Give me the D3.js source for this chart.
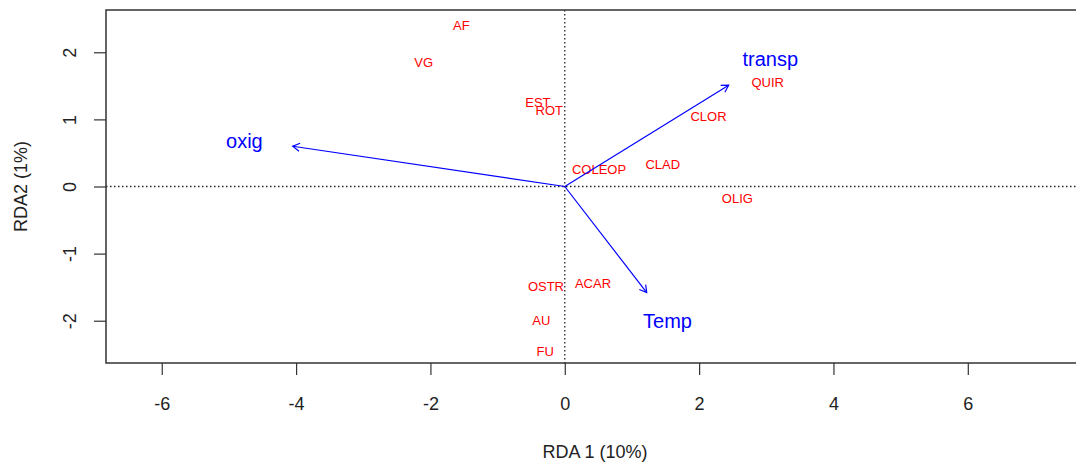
<!DOCTYPE html>
<html>
<head>
<meta charset="utf-8">
<script src="https://cdn.jsdelivr.net/npm/d3@7"></script>
<style>
  body { margin: 0; background: #fff; }
  text { font-family: "Liberation Sans", Arial, sans-serif; }
</style>
</head>
<body>
<script>
// species scores (site labels in red)
const species = ["AF", "VG", "EST", "ROT", "COLEOP", "CLAD", "CLOR", "QUIR", "OLIG", "OSTR", "ACAR", "AU", "FU"];
const speciesX = [-1.54, -2.10, -0.40, -0.23, 0.51, 1.46, 2.14, 3.02, 2.57, -0.28, 0.42, -0.35, -0.29];
const speciesY = [2.40, 1.85, 1.26, 1.14, 0.26, 0.33, 1.05, 1.55, -0.18, -1.48, -1.44, -2.00, -2.45];

// environmental vectors (arrows in blue)
const envVars = ["oxig", "transp", "Temp"];
const envX = [-4.05, 2.44, 1.22];
const envY = [0.60, 1.51, -1.58];
const envLabelX = [-4.77, 3.06, 1.53];
const envLabelY = [0.68, 1.90, -2.00];

const xTicks = [-6, -4, -2, 0, 2, 4, 6];
const yTicks = [-2, -1, 0, 1, 2];

const W = 1076, H = 465;
const margin = {top: 10, right: -8, bottom: 102, left: 106};
const width = W - margin.left - margin.right;
const height = H - margin.top - margin.bottom;

const svg = d3.select("body").append("svg")
    .attr("width", W)
    .attr("height", H);

const g = svg.append("g")
    .attr("transform", "translate(" + margin.left + "," + margin.top + ")");

const x = d3.scaleLinear().domain([-6.83, 7.73]).range([0, width]);
const y = d3.scaleLinear().domain([-2.63, 2.63]).range([height, 0]);

const axisColor = "#333";

// dotted zero lines
g.append("line")
    .attr("x1", x(0)).attr("x2", x(0))
    .attr("y1", 0).attr("y2", height)
    .attr("stroke", "#222").attr("stroke-width", 1.3).attr("stroke-dasharray", "1.5,2.5");
g.append("line")
    .attr("x1", 0).attr("x2", width)
    .attr("y1", y(0)).attr("y2", y(0))
    .attr("stroke", "#222").attr("stroke-width", 1.3).attr("stroke-dasharray", "1.5,2.5");

// X axis
const xAxis = g.append("g")
    .attr("transform", "translate(0," + height + ")")
    .call(d3.axisBottom(x).tickValues(xTicks).tickSize(12).tickPadding(22).tickSizeOuter(0)
        .tickFormat(d => d < 0 ? "-" + Math.abs(d) : d));
xAxis.select(".domain").remove();
xAxis.selectAll("line").attr("stroke", axisColor).attr("stroke-width", 1.2);
xAxis.selectAll("text").attr("font-size", 18).attr("fill", "#222")
    .attr("font-family", "Liberation Sans, Arial, sans-serif");

// Y axis, labels rotated like base graphics
const yAxis = g.append("g")
    .call(d3.axisLeft(y).tickValues(yTicks).tickSize(12).tickSizeOuter(0)
        .tickFormat(d => d < 0 ? "-" + Math.abs(d) : d));
yAxis.select(".domain").remove();
yAxis.selectAll("line").attr("stroke", axisColor).attr("stroke-width", 1.2);
yAxis.selectAll("text")
    .attr("font-size", 18).attr("fill", "#222")
    .attr("font-family", "Liberation Sans, Arial, sans-serif")
    .attr("x", null).attr("dy", null)
    .attr("text-anchor", "middle")
    .attr("transform", "translate(-36,0) rotate(-90)")
    .attr("dy", "0.35em");

// plot box
g.append("rect")
    .attr("x", 0).attr("y", 0)
    .attr("width", width).attr("height", height)
    .attr("fill", "none").attr("stroke", axisColor).attr("stroke-width", 1.5);

// axis titles
svg.append("text")
    .attr("x", margin.left + width / 2)
    .attr("y", 452)
    .attr("text-anchor", "middle")
    .attr("dominant-baseline", "central")
    .attr("font-size", 18).attr("fill", "#222")
    .text("RDA 1 (10%)");

svg.append("text")
    .attr("transform", "translate(21," + (margin.top + height / 2) + ") rotate(-90)")
    .attr("text-anchor", "middle")
    .attr("dominant-baseline", "central")
    .attr("font-size", 18).attr("fill", "#222")
    .text("RDA2 (1%)");

// species labels
g.selectAll(".sp")
    .data(species)
    .enter().append("text")
    .attr("class", "sp")
    .attr("x", (d, i) => x(speciesX[i]))
    .attr("y", (d, i) => y(speciesY[i]))
    .attr("text-anchor", "middle")
    .attr("dy", "0.36em")
    .attr("font-size", 13)
    .attr("fill", "#ff0000")
    .text(d => d);

// environmental arrows
const blue = "#0000ff";
envVars.forEach(function(name, i) {
    const x0 = x(0), y0 = y(0);
    const x1 = x(envX[i]), y1 = y(envY[i]);
    g.append("line")
        .attr("x1", x0).attr("y1", y0)
        .attr("x2", x1).attr("y2", y1)
        .attr("stroke", blue).attr("stroke-width", 1.2);
    // open arrow head
    const ang = Math.atan2(y1 - y0, x1 - x0);
    const len = 8, spread = Math.PI / 6;
    const p1 = [x1 - len * Math.cos(ang - spread), y1 - len * Math.sin(ang - spread)];
    const p2 = [x1 - len * Math.cos(ang + spread), y1 - len * Math.sin(ang + spread)];
    g.append("path")
        .attr("d", "M" + p1 + "L" + [x1, y1] + "L" + p2)
        .attr("fill", "none").attr("stroke", blue).attr("stroke-width", 1.2);
    g.append("text")
        .attr("x", x(envLabelX[i]))
        .attr("y", y(envLabelY[i]))
        .attr("text-anchor", "middle")
        .attr("dy", "0.36em")
        .attr("font-size", 20)
        .attr("fill", blue)
        .text(name);
});
</script>
</body>
</html>
